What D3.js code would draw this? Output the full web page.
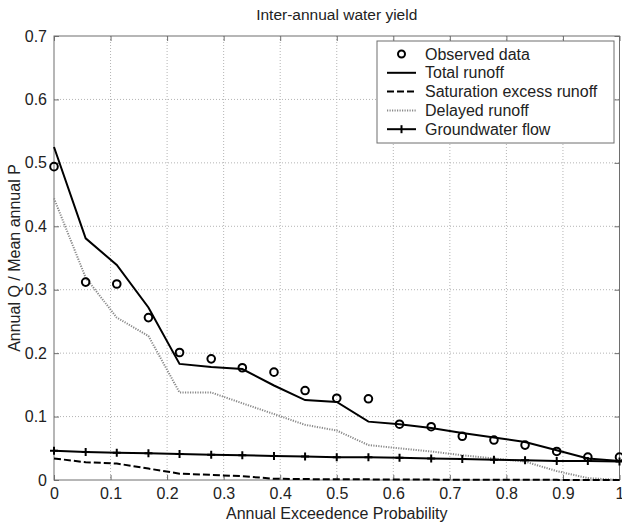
<!DOCTYPE html>
<html>
<head>
<meta charset="utf-8">
<script src="https://cdn.jsdelivr.net/npm/d3@7"></script>
<style>
  html, body { margin: 0; padding: 0; background: #fff; }
  svg { display: block; font-family: "Liberation Sans", Arial, sans-serif; }
</style>
</head>
<body>
<svg id="chart" width="622" height="525"></svg>
<script>
// ---- data ----
const exceedence = [0, 0.056, 0.111, 0.167, 0.222, 0.278, 0.333, 0.389, 0.444, 0.5, 0.556, 0.611, 0.667, 0.722, 0.778, 0.833, 0.889, 0.944, 1];
const observed    = [0.494, 0.312, 0.309, 0.256, 0.201, 0.191, 0.177, 0.170, 0.141, 0.129, 0.128, 0.088, 0.084, 0.069, 0.063, 0.055, 0.045, 0.036, 0.036];
const totalRunoff = [0.525, 0.381, 0.339, 0.272, 0.183, 0.178, 0.175, 0.149, 0.126, 0.123, 0.092, 0.088, 0.082, 0.074, 0.067, 0.060, 0.047, 0.034, 0.030];
const saturation  = [0.034, 0.028, 0.026, 0.018, 0.010, 0.008, 0.006, 0.002, 0.0015, 0.001, 0.001, 0.0008, 0.0006, 0.0005, 0.0004, 0.0003, 0.0002, 0.0001, 0];
const delayed     = [0.444, 0.319, 0.256, 0.227, 0.138, 0.138, 0.121, 0.104, 0.087, 0.078, 0.055, 0.050, 0.045, 0.039, 0.034, 0.029, 0.014, 0.003, 0.000];
const groundwater = [0.046, 0.044, 0.043, 0.042, 0.041, 0.040, 0.039, 0.038, 0.037, 0.036, 0.036, 0.035, 0.034, 0.033, 0.032, 0.031, 0.030, 0.030, 0.029];
const xTicks = [0, 0.1, 0.2, 0.3, 0.4, 0.5, 0.6, 0.7, 0.8, 0.9, 1];
const yTicks = [0, 0.1, 0.2, 0.3, 0.4, 0.5, 0.6, 0.7];
const legendLabels = ["Observed data", "Total runoff", "Saturation excess runoff", "Delayed runoff", "Groundwater flow"];
const titleText = "Inter-annual water yield";
const xLabel = "Annual Exceedence Probability";
const yLabel = "Annual Q / Mean annual P";

// ---- layout ----
const svg = d3.select("#chart");
const m = { left: 54, right: 619.5, top: 36, bottom: 480 };
const x = d3.scaleLinear().domain([0, 1]).range([m.left, m.right]);
const y = d3.scaleLinear().domain([0, 0.7]).range([m.bottom, m.top]);
const axisColor = "#6e6e6e";
const textColor = "#222";

svg.append("rect").attr("x", m.left).attr("y", m.top)
  .attr("width", m.right - m.left).attr("height", m.bottom - m.top).attr("fill", "#fff");

// grid
const grid = svg.append("g");
grid.selectAll(".gx").data(xTicks.slice(1, -1)).join("line")
  .attr("x1", d => x(d)).attr("x2", d => x(d)).attr("y1", m.top).attr("y2", m.bottom)
  .attr("stroke", "#b4b4b4").attr("stroke-width", 1).attr("stroke-dasharray", "1,2");
grid.selectAll(".gy").data(yTicks.slice(1, -1)).join("line")
  .attr("y1", d => y(d)).attr("y2", d => y(d)).attr("x1", m.left).attr("x2", m.right)
  .attr("stroke", "#b4b4b4").attr("stroke-width", 1).attr("stroke-dasharray", "1,2");

// axes (inward ticks, MATLAB style)
function styleAxis(g, showText) {
  g.select(".domain").remove();
  g.selectAll(".tick line").attr("stroke", axisColor);
  g.selectAll(".tick text").attr("fill", textColor).attr("font-size", 16)
    .attr("font-family", "'Liberation Sans', Arial, sans-serif")
    .style("display", showText ? null : "none");
}
svg.append("g").attr("transform", `translate(0,${m.bottom})`)
  .call(d3.axisBottom(x).tickValues(xTicks).tickFormat(d3.format("")).tickSize(-5).tickPadding(8))
  .call(g => styleAxis(g, true));
svg.append("g").attr("transform", `translate(0,${m.top})`)
  .call(d3.axisTop(x).tickValues(xTicks).tickSize(-5))
  .call(g => styleAxis(g, false));
svg.append("g").attr("transform", `translate(${m.left},0)`)
  .call(d3.axisLeft(y).tickValues(yTicks).tickFormat(d3.format("")).tickSize(-5).tickPadding(7))
  .call(g => styleAxis(g, true));
svg.append("g").attr("transform", `translate(${m.right},0)`)
  .call(d3.axisRight(y).tickValues(yTicks).tickSize(-5))
  .call(g => styleAxis(g, false));

svg.append("rect").attr("x", m.left).attr("y", m.top)
  .attr("width", m.right - m.left).attr("height", m.bottom - m.top)
  .attr("fill", "none").attr("stroke", axisColor).attr("stroke-width", 1);

// ---- series ----
const pts = arr => exceedence.map((e, i) => [e, arr[i]]);
const line = d3.line().x(d => x(d[0])).y(d => y(d[1]));
const plot = svg.append("g");

plot.append("path").datum(pts(delayed)).attr("d", line)
  .attr("fill", "none").attr("stroke", "#8a8a8a").attr("stroke-width", 2).attr("stroke-dasharray", "1.2,1.3");
plot.append("path").datum(pts(saturation)).attr("d", line)
  .attr("fill", "none").attr("stroke", "#000").attr("stroke-width", 2).attr("stroke-dasharray", "7,3");
plot.append("path").datum(pts(groundwater)).attr("d", line)
  .attr("fill", "none").attr("stroke", "#000").attr("stroke-width", 2);
plot.append("path").datum(pts(totalRunoff)).attr("d", line)
  .attr("fill", "none").attr("stroke", "#000").attr("stroke-width", 2);

// plus markers on groundwater
plot.selectAll(".plus").data(pts(groundwater)).join("path")
  .attr("d", d => `M${x(d[0]) - 4},${y(d[1])}H${x(d[0]) + 4}M${x(d[0])},${y(d[1]) - 4}V${y(d[1]) + 4}`)
  .attr("stroke", "#000").attr("stroke-width", 2);

// observed circles
plot.selectAll(".obs").data(pts(observed)).join("circle")
  .attr("cx", d => x(d[0])).attr("cy", d => y(d[1])).attr("r", 3.8)
  .attr("fill", "none").attr("stroke", "#000").attr("stroke-width", 2);

// ---- legend ----
const lg = svg.append("g");
lg.append("rect").attr("x", 377).attr("y", 41).attr("width", 237).attr("height", 102)
  .attr("fill", "#fff").attr("stroke", axisColor).attr("stroke-width", 1);
const rowY = i => 54 + i * 18.8;
const lx1 = 387, lx2 = 416;
legendLabels.forEach((lab, i) => {
  const yy = rowY(i);
  if (i === 0) {
    lg.append("circle").attr("cx", (lx1 + lx2) / 2).attr("cy", yy).attr("r", 3.5)
      .attr("fill", "none").attr("stroke", "#000").attr("stroke-width", 2);
  } else {
    const l = lg.append("line").attr("x1", lx1).attr("x2", lx2).attr("y1", yy).attr("y2", yy)
      .attr("stroke", i === 3 ? "#8a8a8a" : "#000").attr("stroke-width", 2);
    if (i === 2) l.attr("stroke-dasharray", "7,3");
    if (i === 3) l.attr("stroke-dasharray", "1.2,1.3");
    if (i === 4) {
      lg.append("path").attr("d", `M${(lx1 + lx2) / 2},${yy - 4}V${yy + 4}`)
        .attr("stroke", "#000").attr("stroke-width", 2);
    }
  }
  lg.append("text").attr("x", 425).attr("y", yy).attr("dy", "0.35em")
    .attr("font-size", 16).attr("fill", textColor).text(lab);
});

// ---- titles ----
svg.append("text").attr("x", (m.left + m.right) / 2).attr("y", 20)
  .attr("text-anchor", "middle").attr("font-size", 15.5).attr("fill", textColor).text(titleText);
svg.append("text").attr("x", (m.left + m.right) / 2).attr("y", 519)
  .attr("text-anchor", "middle").attr("font-size", 16).attr("fill", textColor).text(xLabel);
svg.append("text").attr("transform", `translate(20,${(m.top + m.bottom) / 2}) rotate(-90)`)
  .attr("text-anchor", "middle").attr("font-size", 16).attr("fill", textColor).text(yLabel);
</script>
</body>
</html>
